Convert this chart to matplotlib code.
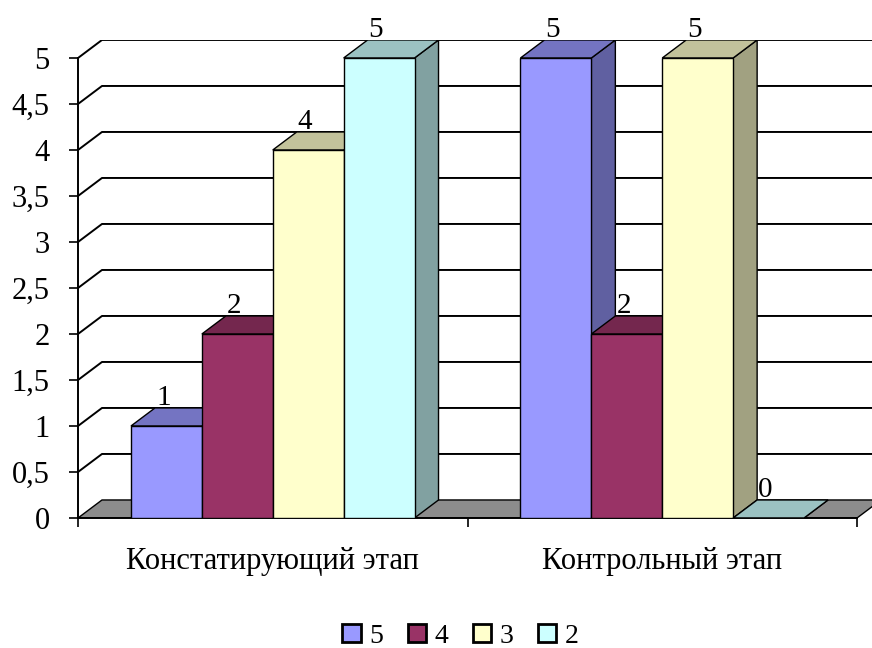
import numpy as np
import matplotlib.pyplot as plt
import matplotlib.colors as mcolors
from matplotlib.patches import Polygon, Patch
from matplotlib.ticker import FuncFormatter

categories = ['Констатирующий этап', 'Контрольный этап']
series = ['5', '4', '3', '2']
grade5 = [1, 5]
grade4 = [2, 2]
grade3 = [4, 5]
grade2 = [5, 0]
colors = ['#9999FF', '#993366', '#FFFFCC', '#CCFFFF']

data = [grade5, grade4, grade3, grade2]
serif = 'Liberation Serif'
fs = 21

def shade(c, k):
    return tuple(k * v for v in mcolors.to_rgb(c))

fig = plt.figure(figsize=(8.72, 6.48), dpi=100)
ax = fig.add_axes([78 / 872, 130 / 648, 794 / 872, 478 / 648])
ax.set_xlim(0, 794 / 389.5)
ax.set_ylim(0, 478 / 92)

# depth of the pseudo-3d box in data units
dx, dy = 0.0616, 0.196
width = 0.182
n = len(categories)
centers = np.arange(n) + 0.5

yticks = np.arange(0, 5.01, 0.5)
for v in yticks[1:]:
    ax.plot([0, dx, n + dx], [v, v + dy, v + dy], color='black', lw=1.4, zorder=1,
            solid_capstyle='butt')

floor = Polygon([(0, 0), (n, 0), (n + dx, dy), (dx, dy)], closed=True,
                fc='#8c8c8c', ec='black', lw=1, zorder=2)
ax.add_patch(floor)

for i, (vals, c) in enumerate(zip(data, colors)):
    left = centers - 2 * width + i * width
    z = 3 + 2 * i
    ax.bar(left, vals, width, align='edge', color=c, ec='black', lw=1, zorder=z + 1)
    for x, h in zip(left, vals):
        top = Polygon([(x, h), (x + width, h), (x + width + dx, h + dy), (x + dx, h + dy)],
                      closed=True, fc=shade(c, 0.76), ec='black', lw=1, zorder=z)
        side = Polygon([(x + width, 0), (x + width + dx, dy), (x + width + dx, h + dy),
                        (x + width, h)], closed=True, fc=shade(c, 0.63), ec='black',
                       lw=1, zorder=z)
        ax.add_patch(side)
        ax.add_patch(top)
        ax.text(x + width / 2 - 0.008, h + dy + 0.03, str(h), ha='center', va='baseline',
                fontsize=fs, family=serif, zorder=20)

ax.set_yticks(yticks)
ax.yaxis.set_major_formatter(FuncFormatter(lambda v, p: f'{v:g}'.replace('.', ',')))
ax.set_xticks(np.arange(n + 1))
ax.set_xticklabels([])
ax.set_xticks(centers, labels=categories, minor=True)
ax.tick_params(axis='y', length=6.5, width=1.2, pad=14, labelsize=fs + 1)
ax.tick_params(axis='x', which='major', length=6.5, width=1.2, direction='out')
ax.tick_params(axis='x', which='minor', length=0, pad=21, labelsize=fs + 1)
for lab in ax.get_yticklabels() + ax.get_xticklabels(minor=True):
    lab.set_family(serif)

ax.spines['top'].set_visible(False)
ax.spines['right'].set_visible(False)
ax.spines['left'].set_bounds(0, 5)
ax.spines['bottom'].set_bounds(0, n)
ax.spines['left'].set_linewidth(1.4)
ax.spines['bottom'].set_linewidth(1.4)
ax.patch.set_visible(False)

handles = [Patch(fc=c, ec='black', lw=2) for c in colors]
fig.legend(handles, series, loc='center', bbox_to_anchor=(0.528, 0.018), ncol=4,
           frameon=False, handlelength=0.65, handleheight=0.65, handletextpad=0.3,
           columnspacing=0.9, prop={'family': serif, 'size': 20})

fig.savefig('out.png', dpi=100)
